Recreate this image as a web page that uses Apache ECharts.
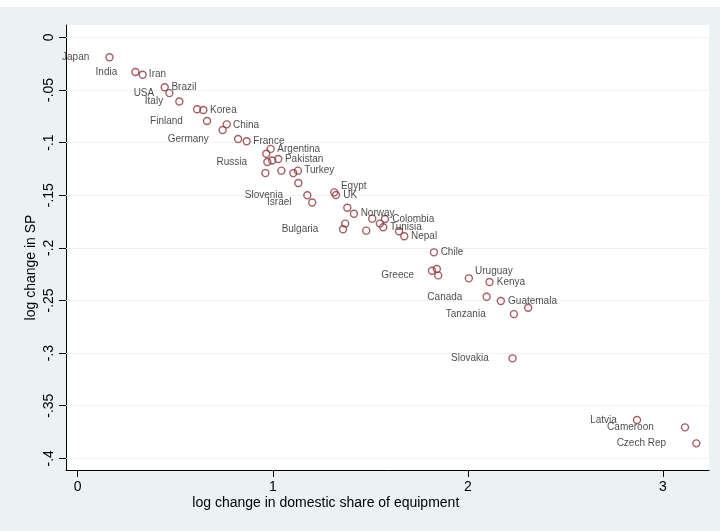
<!DOCTYPE html>
<html>
<head>
<meta charset="utf-8">
<script src="https://cdn.jsdelivr.net/npm/echarts@6/dist/echarts.min.js"></script>
<style>
  html, body { margin: 0; padding: 0; background: #fff; }
  #chart { width: 720px; height: 531px; background: linear-gradient(#fff 0, #fff 7px, #eaf2f3 7px); }
</style>
</head>
<body>
<div id="chart"></div>
<script>
// Country observations: log change in domestic share of equipment vs log change in SP
const countries = [
  'Japan', 'India', 'Iran', 'Brazil', 'USA', 'Italy', '', 'Korea', 'Finland', 'China',
  '', 'Germany', 'France', 'Argentina', '', 'Russia', '', 'Pakistan', '', '',
  '', 'Turkey', '', 'Slovenia', 'Israel', 'Egypt', 'UK', '', 'Norway', '',
  'Bulgaria', '', '', '', 'Colombia', 'Tunisia', '', 'Nepal', 'Chile', '',
  '', 'Greece', 'Uruguay', 'Kenya', 'Canada', 'Guatemala', '', 'Tanzania', 'Slovakia', 'Latvia',
  'Cameroon', 'Czech Rep'
];
const shareChange = [
  0.163, 0.296, 0.333, 0.446, 0.470, 0.521, 0.612, 0.644, 0.663, 0.764,
  0.743, 0.822, 0.866, 0.989, 0.967, 0.972, 0.997, 1.028, 0.962, 1.044,
  1.105, 1.129, 1.131, 1.177, 1.202, 1.315, 1.324, 1.382, 1.416, 1.371,
  1.360, 1.479, 1.510, 1.549, 1.575, 1.566, 1.647, 1.674, 1.826, 1.816,
  1.841, 1.848, 2.005, 2.111, 2.096, 2.169, 2.309, 2.236, 2.229, 2.867,
  3.113, 3.171
];
const spChange = [
  -0.0190, -0.0330, -0.0355, -0.0475, -0.0530, -0.0610, -0.0684, -0.0690, -0.0795, -0.0827,
  -0.0880, -0.0966, -0.0988, -0.1060, -0.1106, -0.1185, -0.1170, -0.1156, -0.1290, -0.1267,
  -0.1290, -0.1267, -0.1384, -0.1500, -0.1570, -0.1473, -0.1498, -0.1620, -0.1676, -0.1770,
  -0.1824, -0.1837, -0.1723, -0.1770, -0.1726, -0.1805, -0.1843, -0.1890, -0.2043, -0.2218,
  -0.2201, -0.2262, -0.2290, -0.2325, -0.2465, -0.2506, -0.2570, -0.2630, -0.3050, -0.3636,
  -0.3706, -0.3858
];

const xTickValues = [0, 1, 2, 3];
const xTickLabels = ['0', '1', '2', '3'];
const yTickValues = [0, -0.05, -0.1, -0.15, -0.2, -0.25, -0.3, -0.35, -0.4];
const yTickLabels = ['0', '-.05', '-.1', '-.15', '-.2', '-.25', '-.3', '-.35', '-.4'];

// Marker label placement: side of the marker, gap from marker centre (px), vertical shift (px)
const labelPlacement = {
  'Japan': ['left', 20], 'India': ['left', 18], 'Iran': ['right', 6], 'Brazil': ['right', 6.5],
  'USA': ['left', 15], 'Italy': ['left', 16], 'Korea': ['right', 6.5], 'Finland': ['left', 24],
  'China': ['right', 6, 1], 'Germany': ['left', 29], 'France': ['right', 6.5], 'Argentina': ['right', 6.5],
  'Russia': ['left', 20], 'Pakistan': ['right', 6.5], 'Turkey': ['right', 6], 'Slovenia': ['left', 24],
  'Israel': ['left', 20.5], 'Egypt': ['right', 6.5, -6.3], 'UK': ['right', 7], 'Norway': ['right', 6.5],
  'Bulgaria': ['left', 24.5], 'Colombia': ['right', 7], 'Tunisia': ['right', 6.5], 'Nepal': ['right', 6.5],
  'Chile': ['right', 6.5], 'Greece': ['left', 24], 'Uruguay': ['right', 6, -6.6], 'Kenya': ['right', 7],
  'Canada': ['left', 24], 'Guatemala': ['right', 7], 'Tanzania': ['left', 28], 'Slovakia': ['left', 23.5],
  'Latvia': ['left', 20], 'Cameroon': ['left', 31], 'Czech Rep': ['left', 30]
};

const FONT = "'Liberation Sans', Arial, Helvetica, sans-serif";
const MARKER = 7;
const MAROON = '#90353b';

function tickText(values, labels) {
  return function (v) {
    for (let i = 0; i < values.length; i++) {
      if (Math.abs(v - values[i]) < 1e-9) return labels[i];
    }
    return '';
  };
}

const points = countries.map(function (name, i) {
  const item = { name: name, value: [shareChange[i], spChange[i]] };
  const place = labelPlacement[name];
  if (place) {
    item.label = {
      show: true,
      position: place[0],
      distance: place[1] - MARKER / 2 - 0.5
    };
  }
  return item;
});

const chart = echarts.init(document.getElementById('chart'), null, { renderer: 'canvas' });

chart.setOption({
  animation: false,
  backgroundColor: 'transparent',
  grid: {
    left: 66, right: 11, top: 25, bottom: 61,
    show: true, backgroundColor: '#ffffff', borderWidth: 0
  },
  xAxis: {
    type: 'value',
    min: -0.06, max: 3.236,
    splitLine: { show: false },
    axisLine: { show: true, onZero: false, lineStyle: { color: '#000', width: 1 } },
    axisTick: { show: true, length: 7, customValues: xTickValues, lineStyle: { color: '#000' } },
    axisLabel: {
      customValues: xTickValues,
      formatter: tickText(xTickValues, xTickLabels),
      margin: 10, color: '#000', fontSize: 14, fontFamily: FONT
    }
  },
  yAxis: {
    type: 'value',
    min: -0.4111, max: 0.0117,
    splitLine: { show: false },
    axisLine: { show: true, onZero: false, lineStyle: { color: '#000', width: 1 } },
    axisTick: { show: true, length: 7, customValues: yTickValues, lineStyle: { color: '#000' } },
    axisLabel: {
      customValues: yTickValues,
      formatter: tickText(yTickValues, yTickLabels),
      rotate: 90, margin: 10, color: '#000', fontSize: 14, fontFamily: FONT
    }
  },
  graphic: [
    {
      type: 'text', x: 325.8, y: 503.3,
      style: {
        text: 'log change in domestic share of equipment',
        fill: '#000', fontSize: 14, fontFamily: FONT,
        align: 'center', verticalAlign: 'middle'
      }
    },
    {
      type: 'text', x: 30.7, y: 267.5, rotation: Math.PI / 2,
      style: {
        text: 'log change in SP',
        fill: '#000', fontSize: 14, fontFamily: FONT,
        align: 'center', verticalAlign: 'middle'
      }
    }
  ],
  series: [
    {
      // horizontal grid lines at the y ticks, kept beneath markers and labels
      type: 'scatter',
      data: [],
      z: 1,
      silent: true,
      markLine: {
        z: 1,
        silent: true,
        symbol: ['none', 'none'],
        label: { show: false },
        emphasis: { disabled: true },
        lineStyle: { color: '#eaf2f3', width: 1.2, type: 'solid' },
        data: yTickValues.map(function (v) { return { yAxis: v }; })
      }
    },
    {
      type: 'scatter',
      z: 3,
      symbol: 'circle',
      symbolSize: MARKER,
      itemStyle: { color: 'rgba(255,255,255,0)', borderColor: MAROON, borderWidth: 1.4 },
      label: { color: '#1a1a1a', fontSize: 10, fontFamily: FONT, formatter: '{b}' },
      labelLayout: function (params) {
        const place = labelPlacement[countries[params.dataIndex]];
        return { hideOverlap: false, dy: place && place[2] ? place[2] : 0 };
      },
      emphasis: { disabled: true },
      data: points
    }
  ]
});
</script>
</body>
</html>
